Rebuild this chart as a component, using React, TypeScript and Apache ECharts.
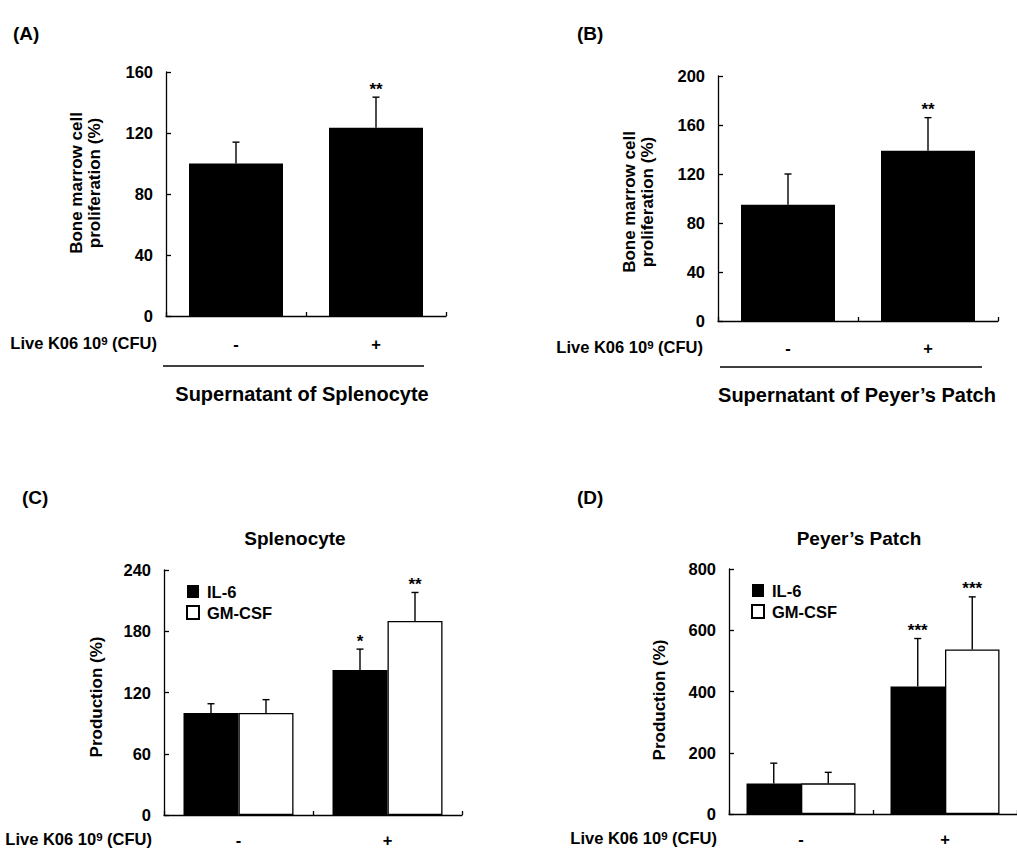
import React, { useEffect, useRef } from "react";
import * as echarts from "echarts";

const CATEGORIES = ["-", "+"];

// Panel A: Supernatant of Splenocyte
const A_MEAN = [100, 123.5];
const A_ERR = [14, 20];
const A_SIG = ["", "**"];

// Panel B: Supernatant of Peyer's Patch
const B_MEAN = [95, 139];
const B_ERR = [25, 27];
const B_SIG = ["", "**"];

// Panel C: Splenocyte
const C_IL6 = [100, 142];
const C_IL6_ERR = [9, 20.5];
const C_IL6_SIG = ["", "*"];
const C_GM = [100, 190];
const C_GM_ERR = [13, 28];
const C_GM_SIG = ["", "**"];

// Panel D: Peyer's Patch
const D_IL6 = [100, 416];
const D_IL6_ERR = [66, 157];
const D_IL6_SIG = ["", "***"];
const D_GM = [100, 537];
const D_GM_ERR = [36, 172];
const D_GM_SIG = ["", "***"];

const Y_TICKS_A = { min: 0, max: 160, interval: 40 };
const Y_TICKS_B = { min: 0, max: 200, interval: 40 };
const Y_TICKS_C = { min: 0, max: 240, interval: 60 };
const Y_TICKS_D = { min: 0, max: 800, interval: 200 };

const FONT = "Liberation Sans, Arial, Helvetica, sans-serif";

function errSeries(axis: number, means: number[], errs: number[], sigs: string[], offset: number) {
  return {
    type: "custom",
    xAxisIndex: axis,
    yAxisIndex: axis,
    clip: false,
    z: 5,
    data: means.map((m, i) => [i, m, errs[i]]),
    renderItem: (params: any, api: any) => {
      const i = api.value(0);
      const m = api.value(1);
      const e = api.value(2);
      const base = api.coord([i, m]);
      const top = api.coord([i, m + e]);
      const x = base[0] + offset;
      const children: any[] = [
        { type: "line", shape: { x1: x, y1: base[1], x2: x, y2: top[1] }, style: { stroke: "#000", lineWidth: 1.4 } },
        { type: "line", shape: { x1: x - 3.5, y1: top[1], x2: x + 3.5, y2: top[1] }, style: { stroke: "#000", lineWidth: 1.4 } },
      ];
      const s = sigs[params.dataIndex];
      if (s) {
        children.push({
          type: "text",
          style: {
            text: s,
            x: x,
            y: top[1] - 8,
            align: "center",
            verticalAlign: "middle",
            fill: "#000",
            fontSize: 17,
            fontWeight: "bold",
            fontFamily: FONT,
          },
        });
      }
      return { type: "group", children };
    },
  };
}

function xAxisCfg(gridIndex: number, margin: number) {
  return {
    type: "category",
    gridIndex,
    data: CATEGORIES,
    axisLine: { show: true, lineStyle: { color: "#000", width: 1.3 } },
    axisTick: { show: true, inside: true, length: 4, alignWithLabel: false, interval: 0, lineStyle: { color: "#000", width: 1.3 } },
    axisLabel: { margin, color: "#000", fontSize: 16.5, fontWeight: "bold", fontFamily: FONT },
    splitLine: { show: false },
  };
}

function yAxisCfg(gridIndex: number, ticks: { min: number; max: number; interval: number }) {
  return {
    type: "value",
    gridIndex,
    min: ticks.min,
    max: ticks.max,
    interval: ticks.interval,
    axisLine: { show: true, lineStyle: { color: "#000", width: 1.3 } },
    axisTick: { show: true, inside: true, length: 5, lineStyle: { color: "#000", width: 1.3 } },
    axisLabel: { margin: 13, color: "#000", fontSize: 16.5, fontWeight: "bold", fontFamily: FONT },
    splitLine: { show: false },
  };
}

function txt(text: string, x: number, y: number, size: number, align = "center", rotation = 0, lineHeight?: number) {
  return {
    type: "text",
    x,
    y,
    rotation,
    style: {
      text,
      align,
      verticalAlign: "middle",
      fill: "#000",
      fontSize: size,
      fontWeight: "bold",
      fontFamily: FONT,
      lineHeight: lineHeight ?? size + 2,
    },
  };
}

function cfuLabel(x: number, y: number, align = "right") {
  return {
    type: "text",
    x,
    y,
    style: {
      text: "{a|Live K06 10}{s|9}{a| (CFU)}",
      align,
      verticalAlign: "middle",
      fill: "#000",
      rich: {
        a: { fontSize: 16.5, fontWeight: "bold", fontFamily: FONT, lineHeight: 18, fill: "#000" },
        s: { fontSize: 11.5, fontWeight: "bold", fontFamily: FONT, lineHeight: 11, verticalAlign: "top", fill: "#000", padding: [1, 0, 0, 0] },
      },
    },
  };
}

function hline(x1: number, x2: number, y: number) {
  return { type: "line", shape: { x1, y1: y, x2, y2: y }, style: { stroke: "#000", lineWidth: 1.5 } };
}

const legendCfg = (left: number, top: number) => ({
  left,
  top,
  orient: "vertical",
  data: ["IL-6", "GM-CSF"],
  icon: "rect",
  itemWidth: 12,
  itemHeight: 13,
  itemGap: 4,
  selectedMode: false,
  textStyle: { color: "#000", fontSize: 16.5, fontWeight: "bold", fontFamily: FONT, padding: [0, 0, 0, 3] },
});

export default function App() {
  const ref = useRef<HTMLDivElement>(null);
  useEffect(() => {
    if (!ref.current) return;
    const chart = echarts.init(ref.current, null, { renderer: "svg" });
    const white = { color: "#fff", borderColor: "#000", borderWidth: 1.3 };
    const black = { color: "#000" };
    chart.setOption({
      animation: false,
      backgroundColor: "#fff",
      grid: [
        { left: 166, top: 72, width: 280, height: 244 },
        { left: 718, top: 76, width: 280, height: 245 },
        { left: 164, top: 570, width: 298, height: 245 },
        { left: 729, top: 569, width: 300, height: 245 },
      ],
      xAxis: [xAxisCfg(0, 19), xAxisCfg(1, 18), xAxisCfg(2, 16), xAxisCfg(3, 16)],
      yAxis: [yAxisCfg(0, Y_TICKS_A), yAxisCfg(1, Y_TICKS_B), yAxisCfg(2, Y_TICKS_C), yAxisCfg(3, Y_TICKS_D)],
      legend: [legendCfg(181, 578), legendCfg(746, 577)],
      series: [
        { type: "bar", name: "A", xAxisIndex: 0, yAxisIndex: 0, data: A_MEAN, barWidth: 94, itemStyle: black },
        errSeries(0, A_MEAN, A_ERR, A_SIG, 0),
        { type: "bar", name: "B", xAxisIndex: 1, yAxisIndex: 1, data: B_MEAN, barWidth: 94, itemStyle: black },
        errSeries(1, B_MEAN, B_ERR, B_SIG, 0),
        { type: "bar", name: "IL-6", xAxisIndex: 2, yAxisIndex: 2, data: C_IL6, barWidth: 55, barGap: "0%", itemStyle: black },
        { type: "bar", name: "GM-CSF", xAxisIndex: 2, yAxisIndex: 2, data: C_GM, barWidth: 55, barGap: "0%", itemStyle: white },
        errSeries(2, C_IL6, C_IL6_ERR, C_IL6_SIG, -27.5),
        errSeries(2, C_GM, C_GM_ERR, C_GM_SIG, 27.5),
        { type: "bar", name: "IL-6", xAxisIndex: 3, yAxisIndex: 3, data: D_IL6, barWidth: 54.5, barGap: "0%", itemStyle: black },
        { type: "bar", name: "GM-CSF", xAxisIndex: 3, yAxisIndex: 3, data: D_GM, barWidth: 54.5, barGap: "0%", itemStyle: white },
        errSeries(3, D_IL6, D_IL6_ERR, D_IL6_SIG, -27.25),
        errSeries(3, D_GM, D_GM_ERR, D_GM_SIG, 27.25),
      ],
      graphic: [
        txt("(A)", 13, 33, 19, "left"),
        txt("(B)", 577, 33, 19, "left"),
        txt("(C)", 22, 497, 19, "left"),
        txt("(D)", 577, 497, 19, "left"),
        txt("Bone marrow cell\nproliferation (%)", 85, 183, 17, "center", Math.PI / 2, 18),
        txt("Bone marrow cell\nproliferation (%)", 638, 202, 17, "center", Math.PI / 2, 18),
        txt("Production (%)", 96, 697, 17, "center", Math.PI / 2),
        txt("Production (%)", 659, 700, 17, "center", Math.PI / 2),
        cfuLabel(157, 343),
        cfuLabel(703, 347),
        cfuLabel(152, 839),
        cfuLabel(717, 838),
        hline(163, 424, 366),
        hline(720, 982, 367),
        txt("Supernatant of Splenocyte", 302, 394, 20),
        txt("Supernatant of Peyer\u2019s Patch", 857, 395, 20),
        txt("Splenocyte", 295, 538, 19),
        txt("Peyer\u2019s Patch", 859, 538, 19),
      ],
    });
    return () => chart.dispose();
  }, []);
  return (
    <div
      ref={ref}
      style={{ position: "fixed", left: 0, top: 0, width: 1017, height: 848, background: "#fff" }}
    />
  );
}
